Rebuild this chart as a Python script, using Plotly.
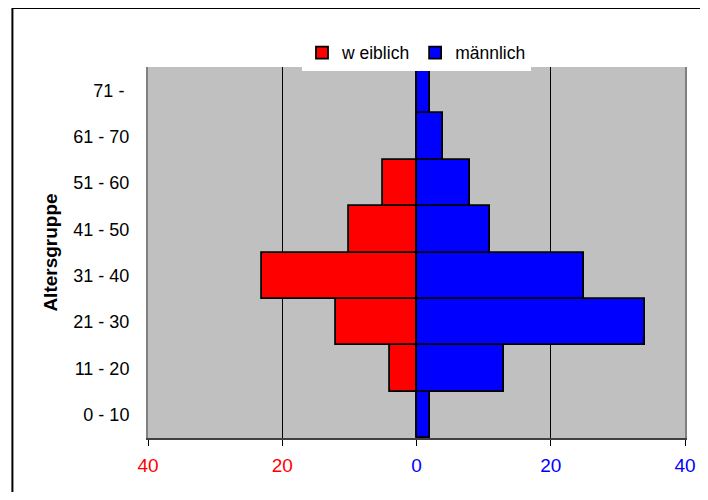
import plotly.graph_objects as go

categories = ["0 - 10", "11 - 20", "21 - 30", "31 - 40", "41 - 50", "51 - 60", "61 - 70", "71 - "]
weiblich = [0, 4, 12, 23, 10, 5, 0, 0]
maennlich = [2, 13, 34, 25, 11, 8, 4, 2]
tick_vals = [-40, -20, 0, 20, 40]
tick_text = ["<span style='color:#FF0000'>40</span>", "<span style='color:#FF0000'>20</span>",
             "0", "20", "40"]

FONT = "Liberation Sans, Arial, sans-serif"

fig = go.Figure()
fig.add_trace(go.Bar(
    y=categories, x=[-v for v in weiblich], orientation="h", name="w eiblich",
    marker=dict(color="#FF0000", line=dict(color="#000000", width=1.8)),
))
fig.add_trace(go.Bar(
    y=categories, x=maennlich, orientation="h", name="männlich",
    marker=dict(color="#0000FF", line=dict(color="#000000", width=1.8)),
))

fig.update_layout(
    width=692, height=484,
    margin=dict(l=140, r=15, t=59, b=54, autoexpand=False),
    paper_bgcolor="#FFFFFF",
    plot_bgcolor="#C0C0C0",
    barmode="relative",
    bargap=0,
    font=dict(family=FONT, size=17, color="#000000"),
    showlegend=True,
    legend=dict(
        orientation="h", x=0.5, xanchor="center", y=0.99, yanchor="bottom",
        bgcolor="#FFFFFF", font=dict(family=FONT, size=17.5, color="#000000"),
        traceorder="normal", itemwidth=30, tracegroupgap=0,
    ),
    xaxis=dict(
        range=[-40, 40], tickmode="array", tickvals=tick_vals, ticktext=tick_text,
        tickfont=dict(family=FONT, size=19, color="#0000FF"),
        showgrid=True, gridcolor="#000000", gridwidth=1,
        zeroline=False, automargin=False,
        showline=True, linecolor="#404040", linewidth=2,
        ticks="outside", ticklen=6, tickcolor="#000000", tickwidth=1,
        ticklabelstandoff=3,
        fixedrange=True,
    ),
    yaxis=dict(
        categoryorder="array", categoryarray=categories,
        tickfont=dict(family=FONT, size=18, color="#000000"),
        showgrid=False, zeroline=False, automargin=False,
        showline=True, linecolor="#808080", linewidth=2, mirror=True,
        ticks="", ticklabelstandoff=13,
        title=dict(text="<b>Altersgruppe</b>", font=dict(family=FONT, size=19, color="#000000"),
                   standoff=11),
        fixedrange=True,
    ),
    shapes=[
        dict(type="line", xref="paper", yref="paper",
             x0=-0.2525, x1=-0.2525, y0=-0.3, y1=1.159,
             line=dict(color="#000000", width=2), layer="below"),
        dict(type="line", xref="paper", yref="paper",
             x0=-0.2525, x1=1.3, y0=1.159, y1=1.159,
             line=dict(color="#000000", width=2), layer="below"),
    ],
)

fig.write_html("out.html")
